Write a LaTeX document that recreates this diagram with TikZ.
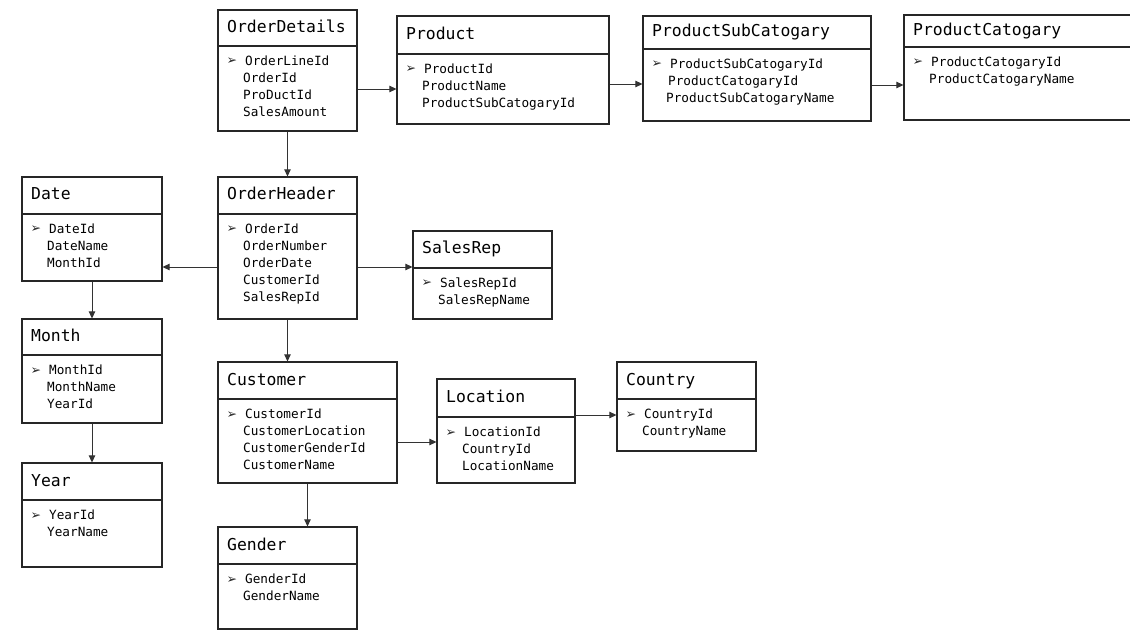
\documentclass[tikz,border=0pt]{standalone}
\usepackage{fontspec}
\setmonofont{DejaVu Sans Mono}
\newfontfamily\symfont{DejaVu Sans}
\usetikzlibrary{arrows.meta,fit}

\tikzset{
  tbl/.style={draw=black!85, line width=1.2pt, inner sep=0pt},
  sep/.style={draw=black!85, line width=1.2pt},
  ttl/.style={anchor=base west, inner sep=0pt, text=black,
              font=\ttfamily\fontsize{16.4}{18}\selectfont},
  fld/.style={anchor=base west, inner sep=0pt, text=black,
              font=\ttfamily\fontsize{12.7}{17}\selectfont},
  bul/.style={anchor=base west, inner sep=0pt, text=black!85,
              font=\symfont\fontsize{12.5}{12.5}\selectfont},
  link/.style={draw=black!80, line width=0.8pt,
               -{Triangle[length=7pt,width=6.5pt]}},
}

% #1 name, #2 left, #3 top, #4 right, #5 divider, #6 bottom, #7 title,
% #8 comma list of fields (the first one is the key)
\newcommand\erbox[8]{%
  \node[tbl, fit={(#2,#3) (#4,#6)}] (#1) {};
  \draw[sep] (#2,#5) -- (#4,#5);
  \node[ttl] (#1-title) at (#2+9,{(#3+#5)/2+4.5}) {#7};
  \node[bul] (#1-key) at (#2+8.5,#5+19) {➢};
  \foreach \f [count=\i from 0] in {#8}
    \node[fld] (#1-f\i) at (#2+25,#5+19.5+17*\i) {\f};
}

\begin{document}
\begin{tikzpicture}[x=1pt,y=-1pt]
  \useasboundingbox (0,0) rectangle (1130,631);
  \clip (0,0) rectangle (1130,631);
  \fill[white] (0,0) rectangle (1130,631);

  % product branch
  \erbox{od}{218}{10}{357}{46}{131}{OrderDetails}
    {\hspace{2pt}OrderLineId,OrderId,ProDuctId,SalesAmount}
  \erbox{prod}{397}{16}{609}{54}{124}{Product}
    {\hspace{2pt}ProductId,ProductName,ProductSubCatogaryId}
  \erbox{psc}{643}{16}{871}{49}{121}{ProductSubCatogary}
    {\hspace{2pt}ProductSubCatogaryId,ProductCatogaryId,\hspace{-2pt}ProductSubCatogaryName}
  \erbox{pc}{904}{15}{1140}{47}{120}{ProductCatogary}
    {\hspace{2pt}ProductCatogaryId,ProductCatogaryName}

  % order header and its lookups
  \erbox{oh}{218}{177}{357}{214}{319}{OrderHeader}
    {\hspace{2pt}OrderId,OrderNumber,OrderDate,CustomerId,SalesRepId}
  \erbox{sr}{413}{231}{552}{268}{319}{SalesRep}
    {\hspace{2pt}SalesRepId,SalesRepName}

  % calendar
  \erbox{date}{22}{177}{162}{214}{281}{Date}
    {\hspace{2pt}DateId,DateName,MonthId}
  \erbox{month}{22}{319}{162}{355}{423}{Month}
    {\hspace{2pt}MonthId,MonthName,YearId}
  \erbox{year}{22}{463}{162}{500}{567}{Year}
    {\hspace{2pt}YearId,YearName}

  % customer branch
  \erbox{cust}{218}{362}{397}{399}{483}{Customer}
    {\hspace{2pt}CustomerId,CustomerLocation,CustomerGenderId,CustomerName}
  \erbox{loc}{437}{379}{575}{417}{483}{Location}
    {\hspace{2pt}LocationId,CountryId,LocationName}
  \erbox{ctry}{617}{362}{756}{399}{451}{Country}
    {\hspace{2pt}CountryId,CountryName}
  \erbox{gen}{218}{527}{357}{564}{629}{Gender}
    {\hspace{2pt}GenderId,GenderName}

  % relationships
  \draw[link] (od.east |- 0,89) -- (prod.west |- 0,89);
  \draw[link] (prod.east |- 0,84) -- (psc.west |- 0,84);
  \draw[link] (psc.east |- 0,85) -- (pc.west |- 0,85);
  \draw[link] (od.south) -- (oh.north);
  \draw[link] (oh.west |- 0,267) -- (date.east |- 0,267);
  \draw[link] (oh.east |- 0,267) -- (sr.west |- 0,267);
  \draw[link] (oh.south) -- (cust.north -| oh.south);
  \draw[link] (date.south) -- (month.north);
  \draw[link] (month.south) -- (year.north);
  \draw[link] (cust.east |- 0,442) -- (loc.west |- 0,442);
  \draw[link] (loc.east |- 0,415) -- (ctry.west |- 0,415);
  \draw[link] (cust.south) -- (gen.north -| cust.south);
\end{tikzpicture}
\end{document}
